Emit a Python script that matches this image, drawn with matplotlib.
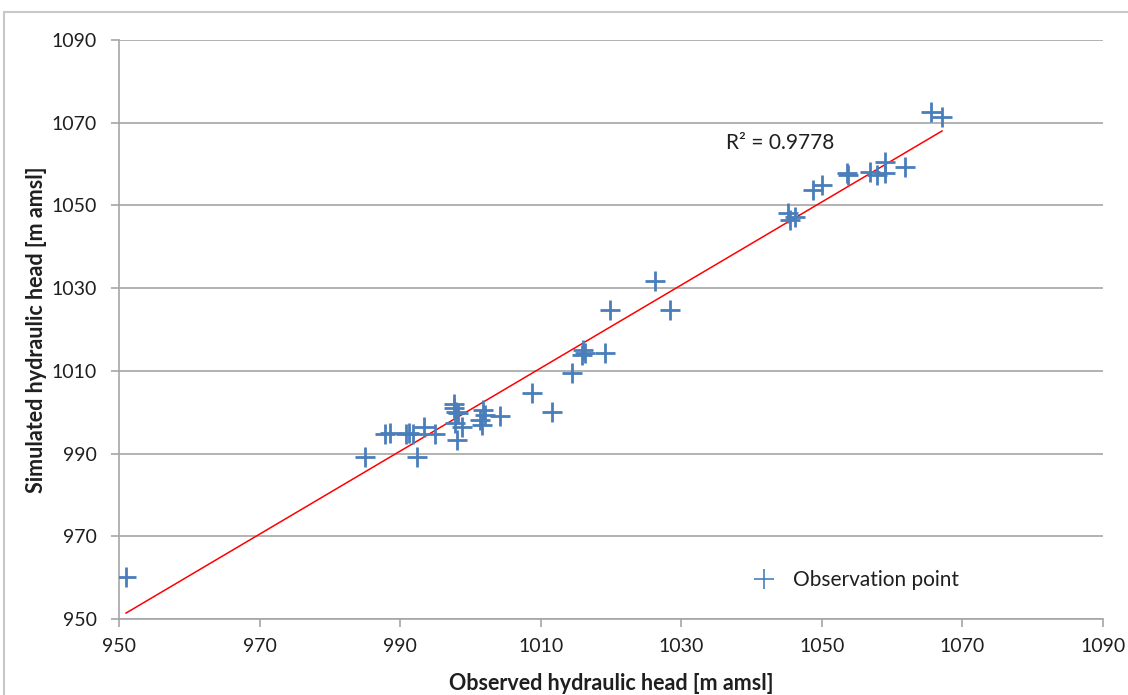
import matplotlib
matplotlib.use("Agg")
import matplotlib.pyplot as plt
from matplotlib.patches import Rectangle
import numpy as np

plt.rcParams["font.family"] = ["Lato", "DejaVu Sans"]

# observed / simulated hydraulic head [m amsl]
observed = [
    951.0, 985.0, 987.8, 988.5, 990.9, 991.3, 991.8, 993.4, 994.9, 992.4,
    997.7, 997.7, 997.9, 998.2, 997.8, 998.8, 998.1, 1001.8, 1002.1, 1001.4,
    1001.6, 1004.2, 1008.7, 1011.6, 1014.4, 1016.0, 1016.3, 1015.9, 1019.1,
    1019.8, 1026.2, 1028.4, 1045.2, 1045.4, 1046.2, 1048.7, 1050.0, 1053.6,
    1053.7, 1056.8, 1057.8, 1059.0, 1059.0, 1061.9, 1065.5, 1067.1,
]
simulated = [
    960.2, 989.2, 994.7, 995.0, 994.7, 995.0, 994.7, 996.4, 994.7, 989.2,
    1002.0, 1001.0, 1000.0, 999.8, 997.4, 996.4, 993.3, 1000.5, 999.3, 998.1,
    996.9, 999.1, 1004.6, 1000.0, 1009.5, 1015.0, 1014.3, 1013.8, 1014.3,
    1024.7, 1031.7, 1024.7, 1048.2, 1046.5, 1047.2, 1053.7, 1054.9, 1057.8,
    1057.4, 1058.1, 1057.4, 1060.5, 1057.8, 1059.3, 1072.6, 1071.4,
]
r2_label = "R\u00b2 = 0.9778"

ticks = [950, 970, 990, 1010, 1030, 1050, 1070, 1090]

blue = "#4a7ebb"
grey = "#a6a6a6"
txt = "#1f1f1f"

fig = plt.figure(figsize=(11.28, 6.95), dpi=100)
ax = fig.add_axes([119 / 1128, 1 - 619 / 695, 984 / 1128, 579 / 695])

# chart area border
fig.patches.append(Rectangle((4 / 1128, -0.1), 1.2, 1 - 12 / 695 + 0.1,
                             transform=fig.transFigure, fill=False,
                             edgecolor="#c8c8c8", linewidth=1.5))

x = np.array(observed)
y = np.array(simulated)
k, b = np.polyfit(x, y, 1)
xl = np.array([x.min(), x.max()])
ax.plot(xl, k * xl + b, color="red", linewidth=1.1, zorder=2)

ax.plot(x, y, linestyle="none", marker="+", markersize=14,
        markeredgewidth=2, color=blue, zorder=3, label="Observation point")

ax.text(1036.3, 1065.1, r2_label, fontsize=15, color=txt, va="center", ha="left")

ax.set_xlim(950, 1090)
ax.set_ylim(950, 1090)
ax.set_xticks(ticks)
ax.set_yticks(ticks)
ax.yaxis.grid(True, color=grey, linewidth=1.2)
ax.set_axisbelow(True)
for s in ["top", "right"]:
    ax.spines[s].set_visible(False)
for s in ["left", "bottom"]:
    ax.spines[s].set_color(grey)
    ax.spines[s].set_linewidth(1.2)
ax.tick_params(axis="both", colors=grey, labelcolor=txt, labelsize=14,
               length=6, width=1.2, direction="out")
ax.tick_params(axis="x", pad=8)
ax.tick_params(axis="y", pad=10)

ax.set_xlabel("Observed hydraulic head [m amsl]", fontsize=15.5,
              fontweight="bold", color=txt, labelpad=13)
ax.set_ylabel("Simulated hydraulic head [m amsl]", fontsize=15.5,
              fontweight="bold", color=txt, labelpad=3)

leg = ax.legend(loc="center left", bbox_to_anchor=(0.643, 0.067),
                frameon=False, fontsize=15, handlelength=1.2,
                borderpad=0, borderaxespad=0, handletextpad=0.8)
for h in leg.legend_handles:
    h.set_markeredgewidth(1.2)
for t in leg.get_texts():
    t.set_color(txt)

fig.savefig("out.png", dpi=100)
